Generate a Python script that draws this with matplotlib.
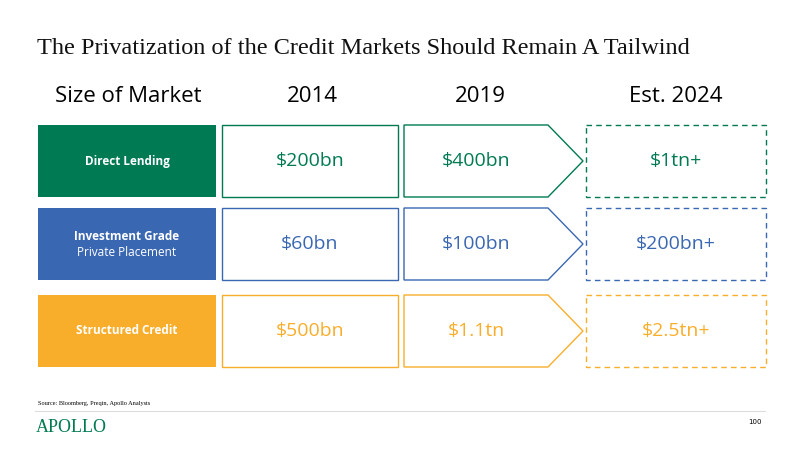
import matplotlib
matplotlib.use('Agg')
import matplotlib.pyplot as plt
from matplotlib.patches import Rectangle, Polygon

markets = ['Direct Lending', 'Investment Grade\nPrivate Placement', 'Structured Credit']
years = ['2014', '2019', 'Est. 2024']
sizes_2014 = ['$200bn', '$60bn', '$500bn']
sizes_2019 = ['$400bn', '$100bn', '$1.1tn']
sizes_2024 = ['$1tn+', '$200bn+', '$2.5tn+']
colors = ['#007A53', '#3A67B1', '#F9AE2B']

fig = plt.figure(figsize=(8, 4.5), dpi=100)
ax = fig.add_axes([0, 0, 1, 1])
ax.set_xlim(0, 800)
ax.set_ylim(450, 0)
ax.axis('off')

ax.text(37, 48, 'The Privatization of the Credit Markets Should Remain A Tailwind',
        fontsize=17.5, family='Liberation Serif', color='#111111', va='center')
ax.text(55, 97, 'Size of Market', fontsize=16, family='Open Sans', va='center')
for x, yr in zip([312, 480, 676], years):
    ax.text(x, 97, yr, fontsize=16, family='Open Sans', va='center', ha='center')

tops = [125, 208, 295]
h = 72
for i, (name, c) in enumerate(zip(markets, colors)):
    y0 = tops[i]
    ym = y0 + h / 2
    ax.add_patch(Rectangle((38, y0), 178, h, facecolor=c, edgecolor='none'))
    if '\n' in name:
        a, b = name.split('\n')
        ax.text(127, ym - 8, a, color='white', fontsize=8.5, fontweight='bold',
                family='Open Sans', ha='center', va='center')
        ax.text(127, ym + 8, b, color='white', fontsize=8.5,
                family='Open Sans', ha='center', va='center')
    else:
        ax.text(127, ym, name, color='white', fontsize=8.5, fontweight='bold',
                family='Open Sans', ha='center', va='center')
    ax.add_patch(Rectangle((222, y0), 176, h, facecolor='white', edgecolor=c, lw=1.0))
    ax.text(310, ym, sizes_2014[i], color=c, fontsize=14, family='Open Sans',
            ha='center', va='center')
    ax.add_patch(Rectangle((586, y0), 180, h, facecolor='white', edgecolor=c, lw=1.0,
                           linestyle=(0, (4, 3))))
    ax.add_patch(Polygon([(404, y0), (548, y0), (583, ym), (548, y0 + h), (404, y0 + h)],
                         closed=True, facecolor='white', edgecolor=c, lw=1.0))
    ax.text(476, ym, sizes_2019[i], color=c, fontsize=14, family='Open Sans',
            ha='center', va='center')
    ax.text(676, ym, sizes_2024[i], color=c, fontsize=14, family='Open Sans',
            ha='center', va='center')

ax.text(38, 404, 'Source: Bloomberg, Preqin, Apollo Analysts', fontsize=4.5,
        family='Liberation Serif', va='center')
ax.plot([35, 765], [411, 411], color='#dddddd', lw=0.8)
ax.text(36, 428, 'APOLLO', fontsize=13, family='Liberation Serif', color='#007A53', va='center')
ax.text(762, 422, '100', fontsize=5, va='center', ha='right')

fig.savefig('out.png', dpi=100, facecolor='white')
